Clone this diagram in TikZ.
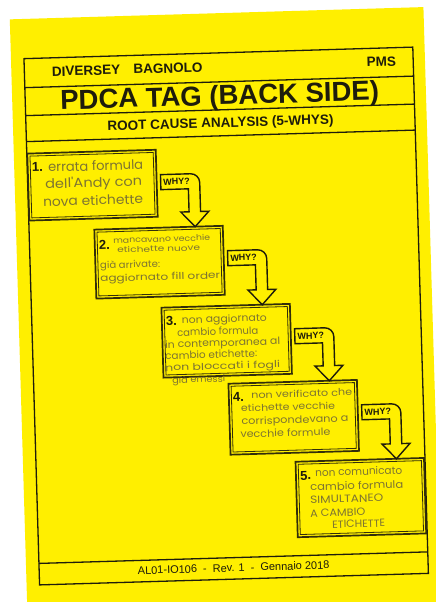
\documentclass[tikz,border=0pt]{standalone}
\usepackage{fontspec}
\usepackage{graphicx}
\setmainfont{Liberation Sans}
\newfontfamily\hand{Poppins}
\usetikzlibrary{calc}
\definecolor{paperyellow}{RGB}{255,239,0}
\definecolor{ink}{RGB}{30,28,12}
\definecolor{boxcol}{RGB}{50,46,10}
\definecolor{pencil}{RGB}{125,116,50}
% #1 target width, #2 font size, #3 text
\newcommand{\hwfit}[3]{\resizebox{#1pt}{\height}{\hand\fontsize{#2}{#2}\selectfont #3}}
\newcommand{\whyarrow}[3]{%
  \coordinate (#3L) at ($(#1.north east)+(4,25)$);
  \coordinate (#3SL) at ($(#3L)+(27.5,0)$);
  \coordinate (#3SR) at ($(#3L)+(39,0)$);
  \coordinate (#3C) at ($(#3L)+(33.25,0)$);
  \coordinate (#3tip) at (#3C |- #2.north);
  \coordinate (#3H) at ($(#3tip)+(0,-15)$);
  \draw[whyline] ($(#3L)+(0,15)$) -- (#3L) -- ($(#3SR)+(-9,0)$)
     .. controls ($(#3SR)+(-4,0)$) and ($(#3SR)+(0,4)$) .. ($(#3SR)+(0,9)$)
     -- (#3SR |- #3H) -- ($(#3H)+(14,0)$) -- (#3tip) -- ($(#3H)+(-14,0)$)
     -- (#3SL |- #3H) -- ($(#3SL)+(0,15)$) -- cycle;
  \node[why] (#3w) at ($(#3L)+(2.5,7.5)$) {WHY?};
}
\begin{document}
\begin{tikzpicture}[x=1pt,y=-1pt,
  frameline/.style={draw=ink,line width=1.3pt},
  stepbox/.style={draw=boxcol,line width=1.7pt,minimum width=128.5pt,anchor=north west,inner sep=0pt,outer sep=0pt},
  boxin/.style={draw=boxcol,line width=0.8pt},
  whyline/.style={draw=ink,line width=1.4pt,line join=miter},
  why/.style={font=\fontsize{9}{10}\selectfont\bfseries,text=ink,anchor=west,inner sep=0pt},
  num/.style={font=\fontsize{13}{14}\selectfont\bfseries,text=ink,anchor=base west,inner sep=0pt},
  hw/.style={text=pencil,anchor=base west,inner sep=0pt},
  head/.style={font=\fontsize{13.5}{15}\selectfont\bfseries,text=ink,inner sep=0pt}
]
\useasboundingbox (0,0) rectangle (436,602);
\fill[white] (0,0) rectangle (436,602);
\clip (0,0) rectangle (436,602);
\begin{scope}[rotate around={1.7:(218,310)},transform shape]
\fill[paperyellow] (18.5,13.3) rectangle (432.3,660);
% frame
\draw[frameline] (31.5,53) rectangle (420.5,579.5);
\draw[frameline] (31.5,82) -- (420.5,82);
\draw[frameline] (31.5,110) -- (420.5,110);
\draw[frameline] (31.5,136) -- (420.5,136);
\draw[frameline] (31.5,558) -- (420.5,558);
% header
\node[head,anchor=base west] (hd1) at (59,71.5) {DIVERSEY};
\node[head,anchor=base west] (hd2) at (140.5,71.5) {BAGNOLO};
\node[head,anchor=base east] (hd3) at (403.4,71.5) {PMS};
\node[font=\fontsize{27.5}{30}\selectfont\bfseries,text=ink,anchor=base,inner sep=0pt] (title) at (226,105) {PDCA TAG (BACK SIDE)};
\node[head,anchor=base] (sub) at (226,127.5) {ROOT CAUSE ANALYSIS (5-WHYS)};
\node[font=\fontsize{11}{13}\selectfont,text=ink,anchor=base,inner sep=0pt] (foot) at (226,572) {AL01-IO106\hspace{6pt}-\hspace{6pt}Rev. 1\hspace{6pt}-\hspace{6pt}Gennaio 2018};
% boxes
\node[stepbox,minimum height=67pt] (b1) at (32,148) {};
\node[stepbox,minimum height=69pt] (b2) at (96.75,226) {};
\node[stepbox,minimum height=70pt] (b3) at (161.5,306) {};
\node[stepbox,minimum height=71pt] (b4) at (226.25,384) {};
\node[stepbox,minimum height=75.5pt] (b5) at (291,464) {};
\foreach \b in {b1,b2,b3,b4,b5}{
  \draw[boxin] ($(\b.north west)+(2.6,2.6)$) rectangle ($(\b.south east)+(-2.6,-2.6)$);
}
\node[num] (n1) at ($(b1.north west)+(4,18.5)$) {1.};
\node[num] (n2) at ($(b2.north west)+(4,20)$) {2.};
\node[num] (n3) at ($(b3.north west)+(4,18)$) {3.};
\node[num] (n4) at ($(b4.north west)+(4,18.3)$) {4.};
\node[num] (n5) at ($(b5.north west)+(4,18.5)$) {5.};
% arrows
\whyarrow{b1}{b2}{w1}
\whyarrow{b2}{b3}{w2}
\whyarrow{b3}{b4}{w3}
\whyarrow{b4}{b5}{w4}
% handwriting
\node[hw] (t1a) at (52.3,167) {\hwfit{95}{13}{errata formula}};
\node[hw] (t1b) at (48.8,183.5) {\hwfit{97}{13}{dell'Andy con}};
\node[hw] (t1c) at (46.2,201.5) {\hwfit{100}{13}{nova etichette}};
\node[hw] (t2a) at (115.1,240.3) {\hwfit{97}{8}{mancavano vecchie}};
\node[hw] (t2b) at (118.8,250) {\hwfit{83}{8}{etichette nuove}};
\node[hw] (t2c) at (101.3,265.5) {\hwfit{60}{9.5}{già arrivate:}};
\node[hw] (t2d) at (101,278.5) {\hwfit{120}{9.5}{aggiornato fill order}};
\node[hw] (t3a) at (181.4,322.5) {\hwfit{85}{10}{non aggiornato}};
\node[hw] (t3b) at (176.4,335) {\hwfit{81}{10}{cambio formula}};
\node[hw] (t3c) at (164,346.5) {\hwfit{115}{10}{in contemporanea al}};
\node[hw] (t3d) at (163.7,358) {\hwfit{92}{10}{cambio etichette:}};
\node[hw] (t3e) at (163.3,369.5) {\hwfit{115}{9.5}{non bloccati i fogli}};
\node[hw] (t3f) at (170,382) {\hwfit{53}{9}{già emessi}};
\node[hw] (t4a) at (248.5,399.5) {\hwfit{101}{9.5}{non verificato che}};
\node[hw] (t4b) at (238,412.3) {\hwfit{94}{9.5}{etichette vecchie}};
\node[hw] (t4c) at (238,425.5) {\hwfit{107}{10}{corrispondevano a}};
\node[hw] (t4d) at (236.5,438.5) {\hwfit{90}{10}{vecchie formule}};
\node[hw] (t5a) at (310.2,479.4) {\hwfit{87}{10.5}{non comunicato}};
\node[hw] (t5b) at (304.8,493.5) {\hwfit{93}{10.5}{cambio formula}};
\node[hw] (t5c) at (304.4,506.2) {\hwfit{73}{10.5}{SIMULTANEO}};
\node[hw] (t5d) at (304,519.8) {\hwfit{55}{10.5}{A CAMBIO}};
\node[hw] (t5e) at (325.6,531.6) {\hwfit{53}{10.5}{ETICHETTE}};
\end{scope}
\end{tikzpicture}
\end{document}
